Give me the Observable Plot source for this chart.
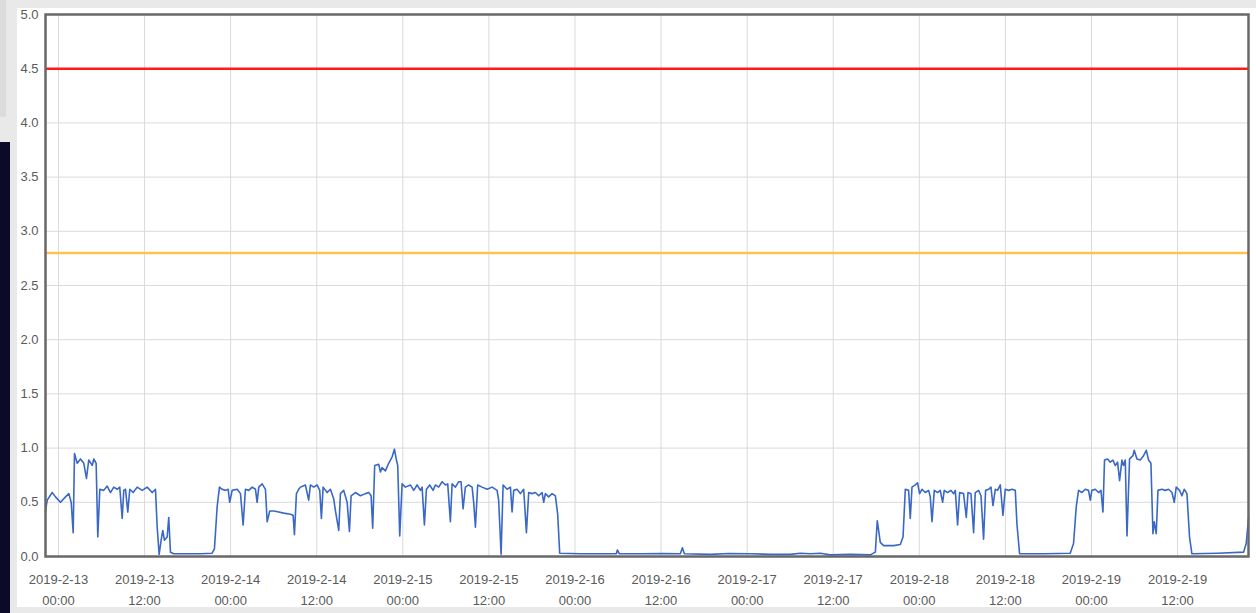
<!DOCTYPE html>
<html><head><meta charset="utf-8">
<script src="https://cdn.jsdelivr.net/npm/d3@7"></script>
<script src="https://cdn.jsdelivr.net/npm/@observablehq/plot@0.6"></script>
<style>
html,body{margin:0;padding:0;width:1256px;height:613px;overflow:hidden;background:#e9e9e9;font-family:"Liberation Sans",Arial,sans-serif;}
#bgLeftTop{position:absolute;left:0;top:0;width:6px;height:117px;background:#dcdcdc;}
#bgLeftDark{position:absolute;left:0;top:142px;width:10px;height:471px;background:#0b0b29;}
#panel{position:absolute;left:17px;top:8px;width:1239px;height:599px;background:#fff;}
#chart{position:absolute;left:0;top:0;}
</style>
</head><body>
<div id="bgLeftTop"></div><div id="bgLeftDark"></div><div id="panel"></div>
<div id="chart"></div>
<script>
// hours after 2019-02-13 00:00 and the value read at that moment
const hours = [
 -1.81,-1.57,-0.88,-0.42,0.28,0.98,1.44,1.77,2.05,2.23,2.61,3.07,3.53,3.90,4.22,4.70,4.92,5.25,5.48,5.76,
 6.31,6.79,7.25,7.71,8.18,8.54,8.88,9.10,9.34,9.66,9.94,10.41,10.97,11.67,12.36,13.06,13.52,13.76,14.03,14.31,
 14.54,14.77,15.15,15.37,15.61,16.07,17.9,19.79,21.42,21.74,22.12,22.44,22.81,23.27,23.65,23.87,24.21,24.91,25.37,25.74,
 26.06,26.52,27.00,27.46,27.69,27.92,28.39,28.85,29.09,29.45,30.01,30.70,31.40,32.33,32.71,32.89,33.17,33.49,33.73,34.42,
 34.88,35.12,35.58,36.05,36.42,36.65,36.89,37.45,37.91,38.37,38.61,39.07,39.30,39.76,40.24,40.56,40.79,41.39,42.09,42.79,
 43.25,43.58,43.80,44.08,44.64,44.88,45.11,45.57,46.03,46.51,46.83,47.11,47.29,47.57,47.90,48.36,49.06,49.52,49.99,50.45,
 50.69,51.01,51.29,51.75,52.22,52.54,53.00,53.48,53.94,54.26,54.63,54.87,55.33,55.79,56.12,56.40,56.72,57.18,57.66,57.88,
 58.12,58.44,59.05,59.75,60.45,61.14,61.36,61.70,61.98,62.54,63.00,63.23,63.46,63.93,64.39,64.85,65.23,65.55,66.02,66.48,
 66.94,67.41,67.64,67.87,68.33,68.81,69.27,69.59,69.87,72.75,75.54,77.77,77.91,78.19,81.11,84.2,86.69,86.97,87.25,90.87,
 93.5,96.44,99.3,102.02,103.4,104.81,106.2,107.59,110.4,113.17,113.87,114.14,114.56,115.02,116.42,117.35,117.73,118.05,118.51,118.74,
 118.98,119.44,119.76,120.04,120.37,120.83,121.30,121.53,121.77,122.09,122.55,122.92,123.25,123.48,123.94,124.42,124.78,125.02,125.34,125.62,
 126.17,126.55,126.79,127.20,127.57,127.80,128.26,128.60,128.96,129.24,129.66,129.99,130.27,130.59,130.91,131.29,131.66,131.98,132.45,132.92,
 133.38,133.61,133.98,137.5,141.04,141.50,141.88,142.20,142.67,143.13,143.59,143.83,144.06,144.53,144.99,145.32,145.60,145.82,146.24,146.62,
 146.99,147.31,147.64,147.92,148.25,148.47,148.71,148.95,149.31,149.78,149.96,150.34,150.80,151.26,151.64,151.96,152.29,152.57,152.75,153.03,
 153.27,153.82,154.28,154.75,155.22,155.54,155.81,156.28,156.61,156.93,157.31,157.67,158.00,161.6,165.20,165.57,165.89
];
const values = [
 0.42,0.52,0.59,0.55,0.50,0.55,0.58,0.50,0.22,0.95,0.86,0.90,0.86,0.72,0.89,0.84,0.90,0.86,0.18,0.62,
 0.61,0.65,0.59,0.64,0.62,0.64,0.35,0.61,0.62,0.41,0.62,0.59,0.64,0.61,0.64,0.59,0.62,0.27,0.02,0.15,
 0.24,0.15,0.18,0.36,0.04,0.025,0.025,0.025,0.03,0.07,0.46,0.64,0.62,0.61,0.62,0.50,0.61,0.62,0.58,0.29,
 0.62,0.61,0.64,0.62,0.50,0.64,0.67,0.62,0.32,0.42,0.42,0.41,0.40,0.39,0.38,0.20,0.58,0.62,0.64,0.66,
 0.52,0.66,0.64,0.66,0.61,0.35,0.64,0.59,0.62,0.53,0.42,0.24,0.58,0.61,0.50,0.23,0.56,0.59,0.56,0.58,
 0.59,0.56,0.26,0.84,0.85,0.78,0.82,0.79,0.86,0.92,0.99,0.89,0.84,0.19,0.67,0.64,0.66,0.61,0.66,0.61,
 0.64,0.29,0.62,0.66,0.61,0.66,0.64,0.69,0.66,0.67,0.32,0.67,0.64,0.69,0.69,0.44,0.64,0.66,0.64,0.50,
 0.27,0.66,0.64,0.62,0.64,0.61,0.52,0.02,0.66,0.62,0.64,0.41,0.61,0.62,0.58,0.62,0.22,0.59,0.58,0.59,
 0.56,0.59,0.50,0.58,0.55,0.58,0.56,0.39,0.03,0.025,0.025,0.025,0.06,0.025,0.025,0.028,0.025,0.08,0.025,0.02,
 0.028,0.025,0.02,0.02,0.03,0.025,0.03,0.015,0.02,0.015,0.04,0.33,0.13,0.10,0.10,0.11,0.18,0.62,0.61,0.35,
 0.64,0.66,0.68,0.58,0.62,0.59,0.61,0.55,0.32,0.61,0.59,0.61,0.50,0.61,0.59,0.61,0.58,0.61,0.29,0.59,
 0.58,0.36,0.59,0.58,0.22,0.59,0.61,0.56,0.16,0.61,0.62,0.64,0.47,0.62,0.61,0.66,0.38,0.62,0.61,0.62,
 0.61,0.30,0.025,0.025,0.03,0.12,0.46,0.61,0.59,0.62,0.61,0.52,0.61,0.62,0.59,0.61,0.41,0.89,0.90,0.87,
 0.89,0.84,0.87,0.70,0.89,0.84,0.89,0.19,0.90,0.93,0.98,0.90,0.89,0.93,0.98,0.89,0.86,0.21,0.32,0.21,
 0.61,0.62,0.61,0.62,0.59,0.50,0.64,0.61,0.56,0.62,0.58,0.18,0.025,0.03,0.04,0.12,0.35
];
const thresholdValues = [4.5, 2.8];
const thresholdColors = ["#ff1a1a", "#ffc24d"];
const yTicks = [0, 0.5, 1, 1.5, 2, 2.5, 3, 3.5, 4, 4.5, 5];

const base = Date.UTC(2019, 1, 13, 0, 0);
const toDate = h => new Date(base + h * 3600e3);
const series = hours.map((h, i) => ({time: toDate(h), value: values[i]}));
const xTicks = d3.range(0, 13 * 12 + 1, 12).map(toDate);
const fmt = d3.utcFormat("%Y-%-m-%-d\n%H:%M");

const chart = Plot.plot({
  width: 1256, height: 613,
  marginLeft: 45, marginRight: 8, marginTop: 14, marginBottom: 57,
  style: {background: "transparent", fontFamily: "'Liberation Sans', Arial, sans-serif", fontSize: "13px", color: "#5a5a5a"},
  x: {type: "utc", domain: [toDate(-1.81), toDate(165.89)], label: null},
  y: {domain: [0, 5], label: null},
  marks: [
    Plot.gridX(xTicks, {stroke: "#dadada", strokeOpacity: 1}),
    Plot.gridY(yTicks, {stroke: "#dadada", strokeOpacity: 1}),
    Plot.ruleY([thresholdValues[0]], {stroke: thresholdColors[0], strokeWidth: 2.5}),
    Plot.ruleY([thresholdValues[1]], {stroke: thresholdColors[1], strokeWidth: 2.5}),
    Plot.line(series, {x: "time", y: "value", stroke: "#3a68c6", strokeWidth: 1.6}),
    Plot.frame({stroke: "#686868", strokeWidth: 2.5}),
    Plot.axisY(yTicks, {tickSize: 0, tickPadding: 7, tickFormat: d => d.toFixed(1), fill: "#5a5a5a", label: null}),
    Plot.axisX(xTicks, {tickSize: 0, tickPadding: 13, tickFormat: fmt, lineHeight: 1.6, fill: "#5a5a5a", label: null})
  ]
});
document.getElementById("chart").appendChild(chart);
</script>
</body></html>
